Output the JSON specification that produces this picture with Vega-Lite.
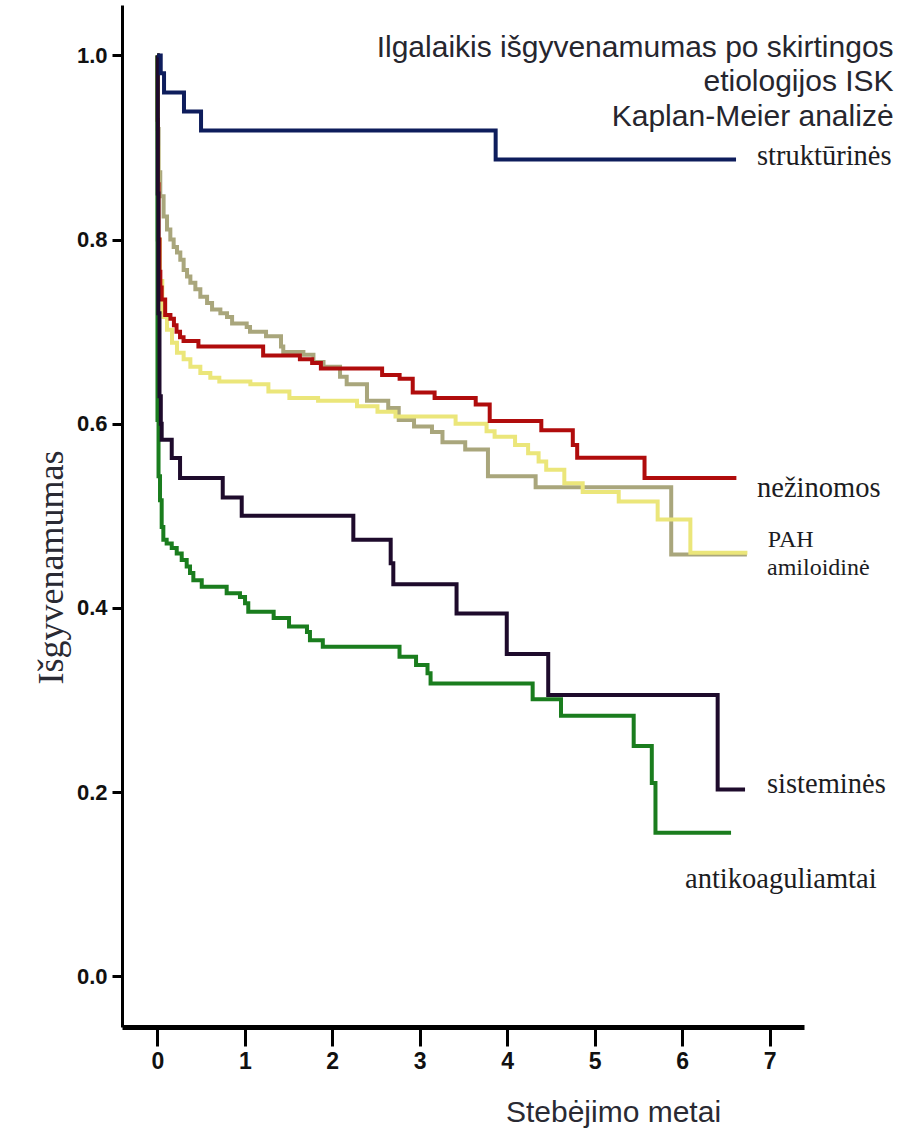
{
  "$schema": "https://vega.github.io/schema/vega-lite/v6.json",
  "width": 682,
  "height": 1022,
  "autosize": {"type": "none"},
  "padding": {"left": 122, "top": 5, "right": 108, "bottom": 105},
  "background": "white",
  "config": {"view": {"stroke": null}},
  "datasets": {
    "curves": [
      {"g":"pah","t":0,"s":1.0},{"g":"pah","t":0.005,"s":0.92},{"g":"pah","t":0.015,"s":0.873},{"g":"pah","t":0.034,"s":0.847},{"g":"pah","t":0.072,"s":0.825},{"g":"pah","t":0.111,"s":0.811},{"g":"pah","t":0.149,"s":0.800},{"g":"pah","t":0.187,"s":0.792},{"g":"pah","t":0.225,"s":0.786},{"g":"pah","t":0.263,"s":0.778},{"g":"pah","t":0.301,"s":0.767},{"g":"pah","t":0.34,"s":0.760},{"g":"pah","t":0.378,"s":0.753},{"g":"pah","t":0.435,"s":0.746},{"g":"pah","t":0.492,"s":0.738},{"g":"pah","t":0.569,"s":0.731},{"g":"pah","t":0.626,"s":0.724},{"g":"pah","t":0.721,"s":0.720},{"g":"pah","t":0.797,"s":0.716},{"g":"pah","t":0.855,"s":0.709},{"g":"pah","t":1.022,"s":0.705},{"g":"pah","t":1.06,"s":0.700},{"g":"pah","t":1.243,"s":0.695},{"g":"pah","t":1.414,"s":0.684},{"g":"pah","t":1.44,"s":0.678},{"g":"pah","t":1.67,"s":0.675},{"g":"pah","t":1.785,"s":0.667},{"g":"pah","t":1.90,"s":0.662},{"g":"pah","t":2.089,"s":0.651},{"g":"pah","t":2.165,"s":0.643},{"g":"pah","t":2.397,"s":0.625},{"g":"pah","t":2.64,"s":0.617},{"g":"pah","t":2.76,"s":0.604},{"g":"pah","t":2.935,"s":0.597},{"g":"pah","t":3.14,"s":0.591},{"g":"pah","t":3.26,"s":0.580},{"g":"pah","t":3.52,"s":0.572},{"g":"pah","t":3.78,"s":0.543},{"g":"pah","t":4.325,"s":0.531},{"g":"pah","t":5.875,"s":0.458},{"g":"pah","t":6.74,"s":0.458},
      {"g":"ami","t":0,"s":1.0},{"g":"ami","t":0.004,"s":0.90},{"g":"ami","t":0.01,"s":0.80},{"g":"ami","t":0.03,"s":0.755},{"g":"ami","t":0.057,"s":0.721},{"g":"ami","t":0.072,"s":0.716},{"g":"ami","t":0.111,"s":0.702},{"g":"ami","t":0.168,"s":0.688},{"g":"ami","t":0.225,"s":0.677},{"g":"ami","t":0.301,"s":0.670},{"g":"ami","t":0.378,"s":0.662},{"g":"ami","t":0.492,"s":0.655},{"g":"ami","t":0.606,"s":0.650},{"g":"ami","t":0.709,"s":0.646},{"g":"ami","t":1.064,"s":0.643},{"g":"ami","t":1.27,"s":0.635},{"g":"ami","t":1.51,"s":0.628},{"g":"ami","t":1.838,"s":0.625},{"g":"ami","t":2.283,"s":0.619},{"g":"ami","t":2.517,"s":0.613},{"g":"ami","t":2.723,"s":0.608},{"g":"ami","t":3.41,"s":0.600},{"g":"ami","t":3.764,"s":0.592},{"g":"ami","t":3.856,"s":0.586},{"g":"ami","t":4.09,"s":0.577},{"g":"ami","t":4.239,"s":0.568},{"g":"ami","t":4.359,"s":0.559},{"g":"ami","t":4.446,"s":0.550},{"g":"ami","t":4.653,"s":0.5355},{"g":"ami","t":4.863,"s":0.526},{"g":"ami","t":5.275,"s":0.5155},{"g":"ami","t":5.72,"s":0.496},{"g":"ami","t":6.094,"s":0.460},{"g":"ami","t":6.746,"s":0.460},
      {"g":"nez","t":0,"s":1.0},{"g":"nez","t":0.004,"s":0.93},{"g":"nez","t":0.008,"s":0.86},{"g":"nez","t":0.014,"s":0.80},{"g":"nez","t":0.025,"s":0.765},{"g":"nez","t":0.035,"s":0.748},{"g":"nez","t":0.05,"s":0.735},{"g":"nez","t":0.09,"s":0.718},{"g":"nez","t":0.15,"s":0.714},{"g":"nez","t":0.19,"s":0.707},{"g":"nez","t":0.22,"s":0.700},{"g":"nez","t":0.26,"s":0.694},{"g":"nez","t":0.30,"s":0.690},{"g":"nez","t":0.47,"s":0.684},{"g":"nez","t":1.21,"s":0.674},{"g":"nez","t":1.63,"s":0.670},{"g":"nez","t":1.77,"s":0.666},{"g":"nez","t":1.87,"s":0.660},{"g":"nez","t":2.57,"s":0.653},{"g":"nez","t":2.77,"s":0.649},{"g":"nez","t":2.92,"s":0.634},{"g":"nez","t":3.17,"s":0.628},{"g":"nez","t":3.64,"s":0.621},{"g":"nez","t":3.80,"s":0.603},{"g":"nez","t":4.39,"s":0.593},{"g":"nez","t":4.75,"s":0.577},{"g":"nez","t":4.80,"s":0.563},{"g":"nez","t":5.57,"s":0.541},{"g":"nez","t":6.62,"s":0.541},
      {"g":"anti","t":0,"s":1.0},{"g":"anti","t":0.001,"s":0.80},{"g":"anti","t":0.002,"s":0.604},{"g":"anti","t":0.014,"s":0.543},{"g":"anti","t":0.031,"s":0.517},{"g":"anti","t":0.05,"s":0.488},{"g":"anti","t":0.069,"s":0.474},{"g":"anti","t":0.107,"s":0.470},{"g":"anti","t":0.165,"s":0.465},{"g":"anti","t":0.222,"s":0.459},{"g":"anti","t":0.279,"s":0.452},{"g":"anti","t":0.336,"s":0.445},{"g":"anti","t":0.374,"s":0.438},{"g":"anti","t":0.412,"s":0.430},{"g":"anti","t":0.508,"s":0.423},{"g":"anti","t":0.793,"s":0.416},{"g":"anti","t":0.945,"s":0.412},{"g":"anti","t":1.003,"s":0.405},{"g":"anti","t":1.04,"s":0.396},{"g":"anti","t":1.33,"s":0.389},{"g":"anti","t":1.506,"s":0.380},{"g":"anti","t":1.711,"s":0.374},{"g":"anti","t":1.745,"s":0.365},{"g":"anti","t":1.892,"s":0.358},{"g":"anti","t":2.769,"s":0.347},{"g":"anti","t":2.958,"s":0.338},{"g":"anti","t":3.089,"s":0.329},{"g":"anti","t":3.124,"s":0.318},{"g":"anti","t":4.291,"s":0.301},{"g":"anti","t":4.615,"s":0.283},{"g":"anti","t":5.446,"s":0.250},{"g":"anti","t":5.653,"s":0.210},{"g":"anti","t":5.695,"s":0.156},{"g":"anti","t":6.559,"s":0.156},
      {"g":"sis","t":0,"s":1.0},{"g":"sis","t":0.005,"s":0.85},{"g":"sis","t":0.012,"s":0.72},{"g":"sis","t":0.025,"s":0.63},{"g":"sis","t":0.04,"s":0.60},{"g":"sis","t":0.05,"s":0.5826},{"g":"sis","t":0.165,"s":0.5627},{"g":"sis","t":0.26,"s":0.541},{"g":"sis","t":0.748,"s":0.520},{"g":"sis","t":0.965,"s":0.500},{"g":"sis","t":2.241,"s":0.474},{"g":"sis","t":2.668,"s":0.4486},{"g":"sis","t":2.698,"s":0.4258},{"g":"sis","t":3.421,"s":0.394},{"g":"sis","t":3.995,"s":0.350},{"g":"sis","t":4.469,"s":0.3054},{"g":"sis","t":6.406,"s":0.203},{"g":"sis","t":6.719,"s":0.203},
      {"g":"struk","t":0,"s":1.0},{"g":"struk","t":0.039,"s":0.9807},{"g":"struk","t":0.077,"s":0.9596},{"g":"struk","t":0.305,"s":0.939},{"g":"struk","t":0.50,"s":0.9184},{"g":"struk","t":3.868,"s":0.887},{"g":"struk","t":6.616,"s":0.887}
    ],
    "labels": [
      {"label":"struktūrinės","grp":"big","t":6.856,"s":0.881},
      {"label":"nežinomos","grp":"big","t":6.856,"s":0.5206},
      {"label":"PAH","grp":"small","t":6.98,"s":0.4667},
      {"label":"amiloidinė","grp":"small","t":6.97,"s":0.436},
      {"label":"sisteminės","grp":"big","t":6.97,"s":0.1996},
      {"label":"antikoaguliamtai","grp":"big","t":6.033,"s":0.0958}
    ],
    "titles": [
      {"label":"Ilgalaikis išgyvenamumas po skirtingos","t":8.417,"s":0.9987},
      {"label":"etiologijos ISK","t":8.417,"s":0.9618},
      {"label":"Kaplan-Meier analizė","t":8.417,"s":0.9234}
    ]
  },
  "encoding": {
    "x": {
      "field": "t", "type": "quantitative",
      "scale": {"domain": [-0.4036, 7.393], "nice": false, "zero": false},
      "axis": {
        "values": [0,1,2,3,4,5,6,7], "format": "d", "grid": false,
        "domainColor": "#000", "domainWidth": 5,
        "tickColor": "#000", "tickWidth": 3, "tickSize": 19,
        "labelFont": "Liberation Sans Narrow, Arial Narrow, sans-serif", "labelFontWeight": "bold",
        "labelFontSize": 23, "labelColor": "#111", "labelPadding": 4, "labelFlush": false,
        "title": "Stebėjimo metai", "titleFont": "Liberation Sans, Arial, sans-serif",
        "titleFontSize": 30, "titleFontWeight": "normal", "titleColor": "#2a2a33",
        "titleX": 491, "titleY": 94, "titleAlign": "center", "titleBaseline": "alphabetic"
      }
    },
    "y": {
      "field": "s", "type": "quantitative",
      "scale": {"domain": [-0.055, 1.0547], "nice": false, "zero": false},
      "axis": {
        "values": [0,0.2,0.4,0.6,0.8,1.0], "format": ".1f", "grid": false,
        "domainColor": "#000", "domainWidth": 3,
        "tickColor": "#000", "tickWidth": 3, "tickSize": 10,
        "labelFont": "Liberation Sans Narrow, Arial Narrow, sans-serif", "labelFontWeight": "bold",
        "labelFontSize": 22, "labelColor": "#111", "labelPadding": 5, "labelFlush": false,
        "title": "Išgyvenamumas", "titleFont": "Liberation Serif, Times New Roman, serif",
        "titleFontSize": 36, "titleFontWeight": "normal", "titleColor": "#2a2a33",
        "titleAngle": 270, "titleX": -60, "titleY": 562, "titleAlign": "center", "titleBaseline": "alphabetic"
      }
    }
  },
  "layer": [
    {
      "data": {"name": "curves"},
      "mark": {"type": "line", "interpolate": "step-after", "strokeWidth": 4, "clip": false},
      "encoding": {
        "color": {
          "field": "g", "type": "nominal", "legend": null,
          "scale": {
            "domain": ["pah","ami","nez","anti","sis","struk"],
            "range": ["#a9a67c","#ebe67a","#b00c0c","#1a7d1e","#1e0b2c","#0e1d5c"]
          }
        }
      }
    },
    {
      "data": {"name": "labels"},
      "transform": [{"filter": "datum.grp === 'big'"}],
      "mark": {"type": "text", "font": "Liberation Serif, Times New Roman, serif", "fontSize": 28.5, "align": "left", "baseline": "alphabetic", "color": "#1c1c22"},
      "encoding": {"text": {"field": "label"}}
    },
    {
      "data": {"name": "labels"},
      "transform": [{"filter": "datum.grp === 'small'"}],
      "mark": {"type": "text", "font": "Liberation Serif, Times New Roman, serif", "fontSize": 24, "align": "left", "baseline": "alphabetic", "color": "#1c1c22"},
      "encoding": {"text": {"field": "label"}}
    },
    {
      "data": {"name": "titles"},
      "mark": {"type": "text", "font": "Liberation Sans, Arial, sans-serif", "fontSize": 30, "align": "right", "baseline": "alphabetic", "color": "#26262e"},
      "encoding": {"text": {"field": "label"}}
    }
  ]
}
